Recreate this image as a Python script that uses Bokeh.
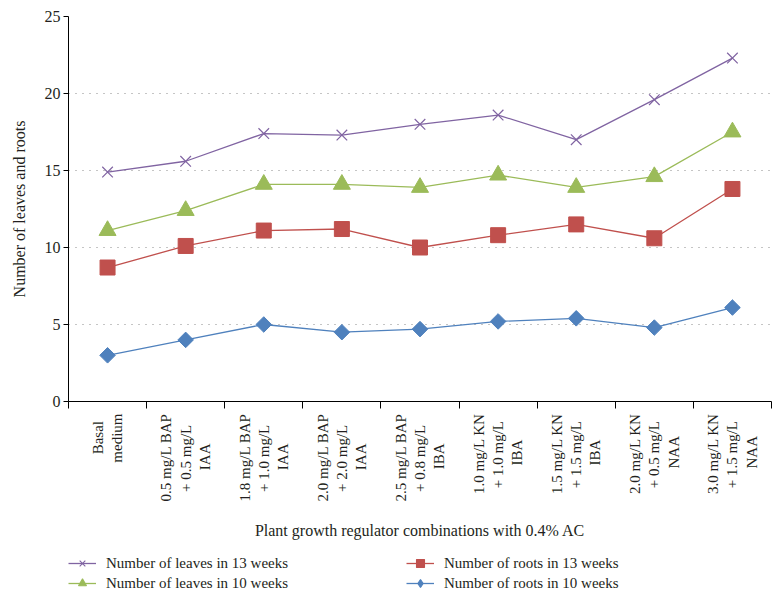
import numpy as np
from bokeh.plotting import figure
from bokeh.layouts import column
from bokeh.models import FixedTicker, Range1d, Legend, LegendItem
from bokeh.embed import file_html
from bokeh.resources import INLINE

NB = "\u00a0"
categories = [
    "Basal" + NB * 2 + "\nmedium",
    "0.5 mg/L BAP\n+ 0.5 mg/L" + NB * 3 + "\nIAA" + NB * 8,
    "1.8 mg/L BAP\n+ 1.0 mg/L" + NB * 3 + "\nIAA" + NB * 8,
    "2.0 mg/L BAP\n+ 2.0 mg/L" + NB * 3 + "\nIAA" + NB * 8,
    "2.5 mg/L BAP\n+ 0.8 mg/L" + NB * 3 + "\nIBA" + NB * 8,
    "1.0 mg/L KN\n+ 1.0 mg/L" + NB * 2 + "\nIBA" + NB * 7,
    "1.5 mg/L KN\n+ 1.5 mg/L" + NB * 2 + "\nIBA" + NB * 7,
    "2.0 mg/L KN\n+ 0.5 mg/L" + NB * 2 + "\nNAA" + NB * 6,
    "3.0 mg/L KN\n+ 1.5 mg/L" + NB * 2 + "\nNAA" + NB * 6,
]
leaves_13 = [14.9, 15.6, 17.4, 17.3, 18.0, 18.6, 17.0, 19.6, 22.3]
leaves_10 = [11.1, 12.4, 14.1, 14.1, 13.9, 14.7, 13.9, 14.6, 17.5]
roots_13 = [8.7, 10.1, 11.1, 11.2, 10.0, 10.8, 11.5, 10.6, 13.8]
roots_10 = [3.0, 4.0, 5.0, 4.5, 4.7, 5.2, 5.4, 4.8, 6.1]
y_ticks = [0, 5, 10, 15, 20, 25]
series_names = ["Number of leaves in 13 weeks", "Number of leaves in 10 weeks",
                "Number of roots in 13 weeks", "Number of roots in 10 weeks"]

FONT = "Liberation Serif"
TXT = "#231f20"
PURPLE, GREEN, RED, BLUE = "#8064A2", "#9BBB59", "#C0504D", "#4F81BD"
n = len(categories)
centers = np.arange(n) + 0.5
bounds = np.arange(n + 1)

p = figure(frame_width=703, frame_height=385, x_range=Range1d(0, n), y_range=Range1d(0, 25),
           output_backend="svg", toolbar_location=None,
           min_border_left=68, min_border_right=11, min_border_top=16, min_border_bottom=147)
p.outline_line_color = None
p.background_fill_color = "white"
p.border_fill_color = "white"

# grid
p.xgrid.grid_line_color = None
p.ygrid.grid_line_color = "#8a8a8a"
p.ygrid.grid_line_dash = "1 6"
p.ygrid.grid_line_width = 1

# y axis
p.yaxis.ticker = FixedTicker(ticks=y_ticks)
p.yaxis.axis_line_color = "black"
p.yaxis.major_tick_out = 5
p.yaxis.major_tick_in = 0
p.yaxis.minor_tick_line_color = None
p.yaxis.major_label_standoff = 3
p.yaxis.major_label_text_font = FONT
p.yaxis.major_label_text_font_size = "16px"
p.yaxis.major_label_text_color = TXT
p.yaxis.axis_label = "Number of leaves and roots"
p.yaxis.axis_label_text_font = FONT
p.yaxis.axis_label_text_font_size = "16px"
p.yaxis.axis_label_text_font_style = "normal"
p.yaxis.axis_label_text_color = TXT
p.yaxis.axis_label_standoff = 14

# x axis
p.xaxis.ticker = FixedTicker(ticks=list(centers), minor_ticks=list(bounds))
p.xaxis.major_label_overrides = {float(c): lab for c, lab in zip(centers, categories)}
p.xaxis.major_label_orientation = np.pi / 2
p.xaxis.major_tick_line_color = None
p.xaxis.major_tick_out = 7
p.xaxis.minor_tick_out = 7
p.xaxis.minor_tick_in = 0
p.xaxis.minor_tick_line_color = "black"
p.xaxis.axis_line_color = "black"
p.xaxis.major_label_standoff = 5
p.xaxis.major_label_text_font = FONT
p.xaxis.major_label_text_font_size = "15px"
p.xaxis.major_label_text_color = TXT
p.xaxis.axis_label = "Plant growth regulator combinations with 0.4% AC"
p.xaxis.axis_label_text_font = FONT
p.xaxis.axis_label_text_font_size = "16px"
p.xaxis.axis_label_text_font_style = "normal"
p.xaxis.axis_label_text_color = TXT
p.xaxis.axis_label_standoff = 18

series = [leaves_13, leaves_10, roots_13, roots_10]
p.line(centers, leaves_13, line_color=PURPLE, line_width=1.3)
p.scatter(centers, leaves_13, marker="x", size=15, line_color=PURPLE, line_width=1.2)
p.line(centers, leaves_10, line_color=GREEN, line_width=1.3)
p.scatter(centers, leaves_10, marker="triangle", size=17, fill_color=GREEN, line_color=GREEN)
p.line(centers, roots_13, line_color=RED, line_width=1.3)
p.scatter(centers, roots_13, marker="square", size=15, fill_color=RED, line_color=RED)
p.line(centers, roots_10, line_color=BLUE, line_width=1.3)
p.scatter(centers, roots_10, marker="square", angle=np.pi / 4, size=11,
          fill_color=BLUE, line_color=BLUE)

# legend strip below the chart; its key renderers carry the same series but are hidden
lg = figure(width=782, height=50, x_range=Range1d(0, 1), y_range=Range1d(0, 1),
            output_backend="svg", toolbar_location=None,
            x_axis_location=None, y_axis_location=None, min_border=0)
lg.outline_line_color = None
lg.grid.visible = False
styles = [(PURPLE, "x", 9), (GREEN, "triangle", 11), (RED, "square", 9), (BLUE, "diamond", 12)]
items = []
for name, vals, (col, mk, sz) in zip(series_names, series, styles):
    kl = lg.line(centers, vals, line_color=col, line_width=1.3, visible=False)
    ks = lg.scatter(centers, vals, marker=mk, size=sz, fill_color=col, line_color=col,
                    line_width=1.1, visible=False)
    items.append(LegendItem(label=name, renderers=[kl, ks]))

legend = Legend(items=items, ncols=2, location=(0, 5), padding=0, margin=0, spacing=0,
                glyph_width=28, glyph_height=20, label_height=20, label_standoff=10,
                label_width=300, border_line_color=None, background_fill_alpha=0,
                inactive_fill_alpha=0,
                label_text_font=FONT, label_text_font_size="15px", label_text_color=TXT)
lg.add_layout(legend, "center")

layout = column(p, lg, spacing=0)
open("out.html", "w").write(file_html(layout, INLINE))
